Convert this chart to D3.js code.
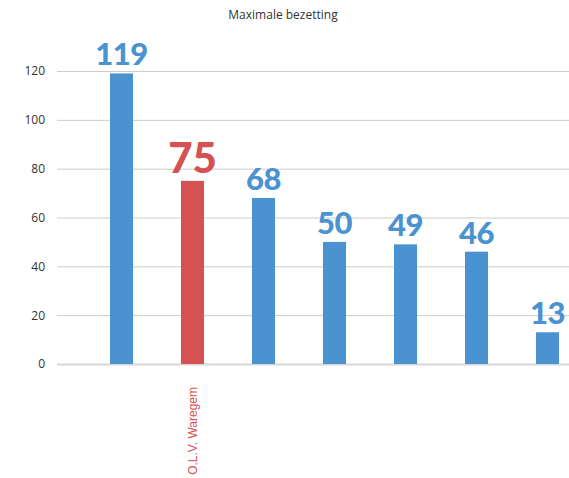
<!DOCTYPE html>
<html>
<head>
<meta charset="utf-8">
<script src="https://cdn.jsdelivr.net/npm/d3@7"></script>
<style>
  body { margin: 0; background: #fff; }
  svg { display: block; font-family: "Open Sans", "DejaVu Sans", sans-serif; }
</style>
</head>
<body>
<div id="chart"></div>
<script>
// Chart data
var categories = ["", "O.L.V. Waregem", "", "", "", "", ""];
var values = [119, 75, 68, 50, 49, 46, 13];
var highlight = [false, true, false, false, false, false, false];
var yTicks = [0, 20, 40, 60, 80, 100, 120];

var svgWidth = 569;
var svgHeight = 478;

var svg = d3.select("#chart")
    .append("svg")
    .attr("width", svgWidth)
    .attr("height", svgHeight);

var blue = "#4a92d0";
var red = "#d65151";

// Scales
var xScale = d3.scaleBand()
    .domain(d3.range(values.length))
    .range([86, 583])
    .paddingInner(0.676)
    .paddingOuter(0.338);

var yScale = d3.scaleLinear()
    .domain([0, 120])
    .range([364, 71]);

// Title
svg.append("text")
    .attr("x", 283)
    .attr("y", 19)
    .attr("text-anchor", "middle")
    .attr("font-size", 12)
    .attr("fill", "#333")
    .text("Maximale bezetting");

// Gridlines + y labels
var leftAxis = d3.axisLeft(yScale)
    .tickValues(yTicks)
    .tickSize(-(svgWidth - 57))
    .tickPadding(12);

var yAxis = svg.append("g")
    .attr("transform", "translate(57, 0)")
    .call(leftAxis);

yAxis.select(".domain").remove();
yAxis.selectAll(".tick line")
    .attr("stroke", d => (d === 0 ? "#d6d6d6" : "#cccccc"))
    .attr("stroke-width", d => (d === 0 ? 2 : 1));
yAxis.selectAll(".tick text")
    .attr("font-size", 12)
    .attr("fill", "#333")
    .attr("font-family", "Open Sans, sans-serif");

// Bars
svg.append("g")
    .selectAll("rect")
    .data(values)
    .enter()
    .append("rect")
    .attr("x", (d, i) => xScale(i))
    .attr("y", d => yScale(d))
    .attr("width", xScale.bandwidth())
    .attr("height", d => yScale(0) - yScale(d))
    .attr("fill", (d, i) => (highlight[i] ? red : blue));

// Value labels above bars
svg.append("g")
    .selectAll("text")
    .data(values)
    .enter()
    .append("text")
    .attr("x", (d, i) => xScale(i) + xScale.bandwidth() / 2)
    .attr("y", d => yScale(d) - 8)
    .attr("text-anchor", "middle")
    .attr("font-family", "Lato, sans-serif")
    .attr("font-weight", 900)
    .attr("font-size", (d, i) => (highlight[i] ? 42 : 31))
    .attr("letter-spacing", (d, i) => (highlight[i] ? 0 : -0.5))
    .attr("fill", (d, i) => (highlight[i] ? red : blue))
    .text(d => d);

// Category labels (rotated)
svg.append("g")
    .selectAll("text")
    .data(categories)
    .enter()
    .append("text")
    .attr("transform", (d, i) => `translate(${xScale(i) + xScale.bandwidth() / 2 + 4}, 387) rotate(-90)`)
    .attr("text-anchor", "end")
    .attr("font-family", "Liberation Sans, Arial, sans-serif")
    .attr("font-size", 12)
    .attr("fill", red)
    .text(d => d);
</script>
</body>
</html>
